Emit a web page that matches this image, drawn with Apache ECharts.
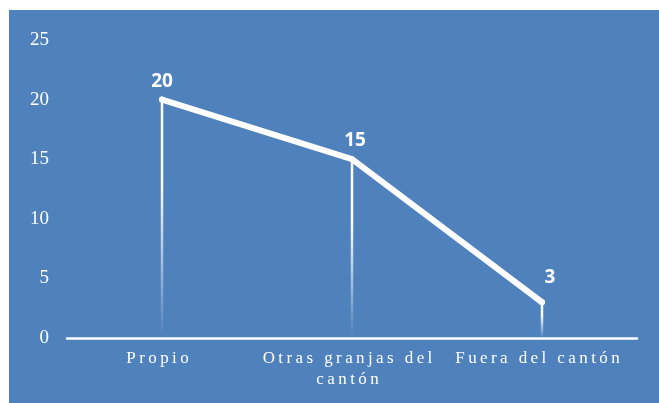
<!DOCTYPE html>
<html>
<head>
<meta charset="utf-8">
<script src="https://cdn.jsdelivr.net/npm/echarts@6/dist/echarts.min.js"></script>
<style>
  html, body { margin: 0; padding: 0; background: #fff; }
  .wrap { position: relative; width: 659px; height: 403px; background: #fff; }
  .chartdiv { position: absolute; left: 9px; top: 10px; width: 650px; height: 393px; background: #4f81bd; }
</style>
</head>
<body>
<div class="wrap">
  <div id="chatMain" class="chartdiv"></div>
</div>
<script>
// datos del gráfico
const categorias = ['Propio', 'Otras granjas del cantón', 'Fuera del cantón']
const valores = [20, 15, 3]
const yTicks = [0, 5, 10, 15, 20, 25]

// ajuste de etiquetas de datos (como en la imagen)
const labelShift = [[0, 0], [3, 0], [8, -6]]

// espaciado entre letras con espacio fino
function espaciar(txt) {
  const words = txt.split(' ')
  const lines = []
  let cur = ''
  words.forEach(w => {
    const next = cur ? cur + ' ' + w : w
    if (next.length > 17 && cur) {
      lines.push(cur)
      cur = w
    } else {
      cur = next
    }
  })
  lines.push(cur)
  return lines.map(l => l.split('').join('\u2009')).join('\n')
}

const myechart = echarts.init(document.getElementById('chatMain'))
const option = {
  animation: false,
  grid: {
    left: 58,
    right: 22,
    top: 30,
    bottom: 65
  },
  xAxis: {
    type: 'category',
    data: categorias,
    boundaryGap: true,
    axisTick: { show: false },
    axisLine: {
      show: true,
      lineStyle: { color: '#fff', width: 2.5 }
    },
    axisLabel: {
      color: '#fff',
      fontFamily: 'Liberation Serif',
      fontSize: 17,
      lineHeight: 21,
      margin: 10,
      padding: [0, 9, 0, 0], // desplaza el texto un poco a la izquierda
      interval: 0,
      formatter: espaciar
    },
    splitLine: { show: false }
  },
  yAxis: {
    type: 'value',
    min: yTicks[0],
    max: yTicks[yTicks.length - 1],
    interval: 5,
    axisLine: { show: false },
    axisTick: { show: false },
    splitLine: { show: false },
    axisLabel: {
      color: '#fff',
      fontFamily: 'Liberation Serif',
      fontSize: 19,
      margin: 18
    }
  },
  series: [
    {
      // líneas de caída
      type: 'bar',
      data: valores,
      barWidth: 2.5,
      z: 1,
      silent: true,
      itemStyle: {
        color: new echarts.graphic.LinearGradient(0, 0, 0, 1, [
          { offset: 0, color: 'rgba(255,255,255,1)' },
          { offset: 0.35, color: 'rgba(255,255,255,1)' },
          { offset: 1, color: 'rgba(255,255,255,0)' }
        ])
      }
    },
    {
      type: 'line',
      z: 3,
      data: valores.map((v, i) => ({
        value: v,
        label: { offset: labelShift[i] }
      })),
      symbol: 'circle',
      symbolSize: 6,
      showSymbol: true,
      itemStyle: { color: '#fff' },
      lineStyle: { color: '#fff', width: 6, cap: 'round', join: 'round' },
      label: {
        show: true,
        position: 'top',
        distance: 6,
        color: '#fff',
        fontFamily: 'Open Sans',
        fontWeight: 'bold',
        fontSize: 19
      }
    }
  ]
}
myechart.setOption(option)
</script>
</body>
</html>
